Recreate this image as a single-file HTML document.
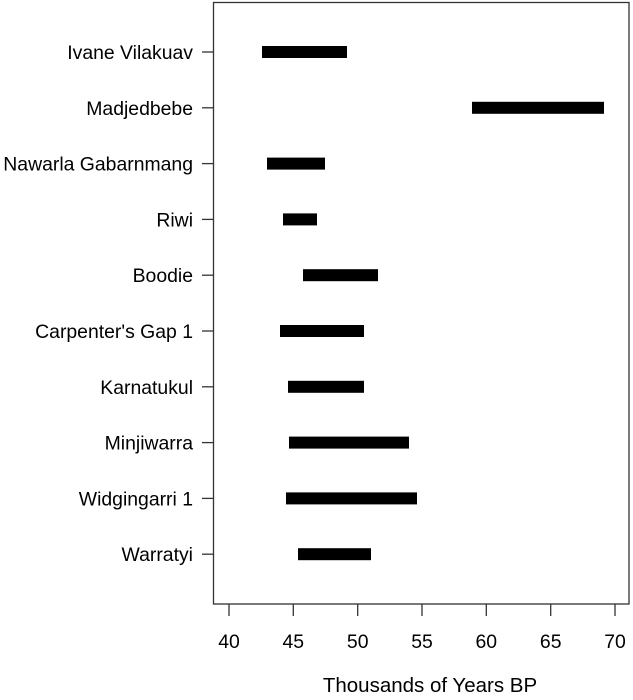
<!DOCTYPE html>
<html><head><style>body{margin:0;background:#fff}</style></head><body>
<svg width="633" height="695" xmlns="http://www.w3.org/2000/svg" font-family="Liberation Sans, Arial, sans-serif" font-size="19.4" fill="#000">
<rect x="213.5" y="2.5" width="415.5" height="601.5" fill="none" stroke="#333" stroke-width="1.3"/>
<g stroke="#333" stroke-width="1.3">
<line x1="229" y1="604" x2="229" y2="616"/><line x1="293.3" y1="604" x2="293.3" y2="616"/><line x1="357.7" y1="604" x2="357.7" y2="616"/><line x1="422" y1="604" x2="422" y2="616"/><line x1="486.3" y1="604" x2="486.3" y2="616"/><line x1="550.7" y1="604" x2="550.7" y2="616"/><line x1="615" y1="604" x2="615" y2="616"/>
<line x1="202" y1="52" x2="213.5" y2="52"/><line x1="202" y1="107.8" x2="213.5" y2="107.8"/><line x1="202" y1="163.6" x2="213.5" y2="163.6"/><line x1="202" y1="219.4" x2="213.5" y2="219.4"/><line x1="202" y1="275.2" x2="213.5" y2="275.2"/><line x1="202" y1="331" x2="213.5" y2="331"/><line x1="202" y1="386.8" x2="213.5" y2="386.8"/><line x1="202" y1="442.6" x2="213.5" y2="442.6"/><line x1="202" y1="498.4" x2="213.5" y2="498.4"/><line x1="202" y1="554.2" x2="213.5" y2="554.2"/>
</g>
<g text-anchor="middle">
<text x="229" y="648">40</text><text x="293.3" y="648">45</text><text x="357.7" y="648">50</text><text x="422" y="648">55</text><text x="486.3" y="648">60</text><text x="550.7" y="648">65</text><text x="615" y="648">70</text>
<text x="430" y="692" font-size="20.5">Thousands of Years BP</text>
</g>
<g text-anchor="end">
<text x="193" y="59">Ivane Vilakuav</text>
<text x="193" y="114.8">Madjedbebe</text>
<text x="193" y="170.6">Nawarla Gabarnmang</text>
<text x="193" y="226.4">Riwi</text>
<text x="193" y="282.2">Boodie</text>
<text x="193" y="338">Carpenter's Gap 1</text>
<text x="193" y="393.8">Karnatukul</text>
<text x="193" y="449.6">Minjiwarra</text>
<text x="193" y="505.4">Widgingarri 1</text>
<text x="193" y="561.2">Warratyi</text>
</g>
<g>
<rect x="262" y="46" width="85" height="12"/>
<rect x="472" y="101.8" width="132" height="12"/>
<rect x="267" y="157.6" width="58" height="12"/>
<rect x="283" y="213.4" width="34" height="12"/>
<rect x="303" y="269.2" width="75" height="12"/>
<rect x="280" y="325" width="84" height="12"/>
<rect x="288" y="380.8" width="76" height="12"/>
<rect x="289" y="436.6" width="120" height="12"/>
<rect x="286" y="492.4" width="131" height="12"/>
<rect x="298" y="548.2" width="73" height="12"/>
</g>
</svg>
</body></html>
